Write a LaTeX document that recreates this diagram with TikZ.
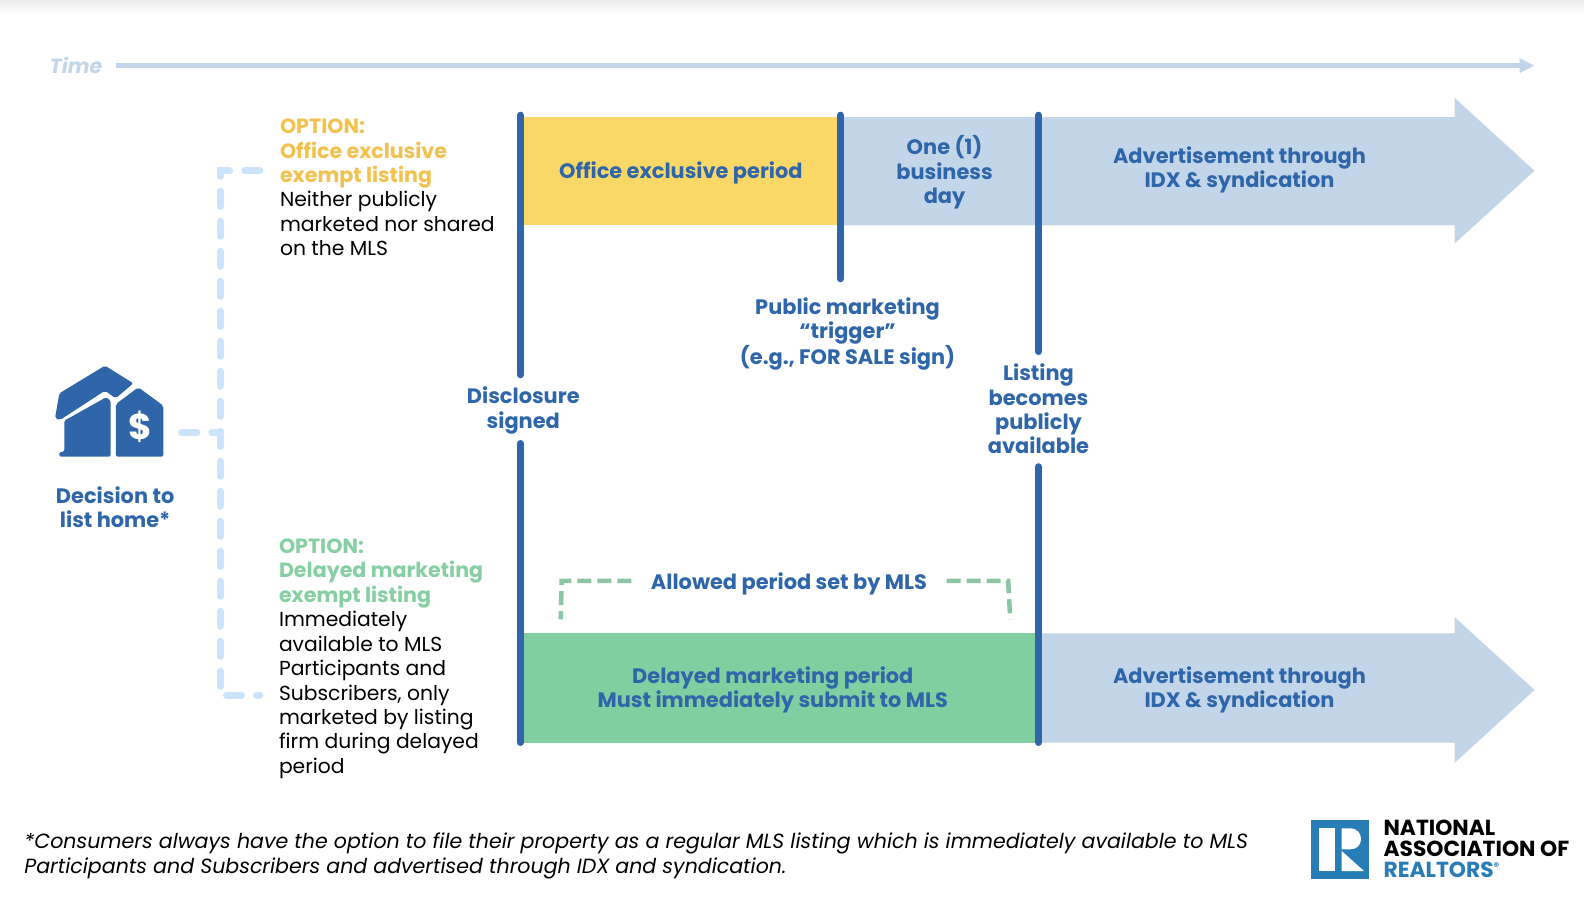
\documentclass[tikz,border=0pt]{standalone}
\usepackage{fontspec}
\setmainfont{Poppins}
\usetikzlibrary{arrows.meta}
\definecolor{navy}{HTML}{2F66A9}
\definecolor{pale}{HTML}{C3D5E8}
\definecolor{gold}{HTML}{F9D867}
\definecolor{goldtxt}{HTML}{F2C14E}
\definecolor{mint}{HTML}{81CEA0}
\definecolor{minttxt}{HTML}{86CFA3}
\definecolor{dashblue}{HTML}{CBE3FB}
\definecolor{dashgreen}{HTML}{8CC5A4}
\newcommand{\opthead}[2]{\textcolor{#1}{\fontsize{20.6}{24.45}\selectfont\bfseries #2}}
\tikzset{
 txt/.style={inner sep=0pt,align=left,text depth=0pt,font=\fontsize{20.3}{24.45}\selectfont},
 lbl/.style={inner sep=0pt,align=center,text=navy,font=\fontsize{20.9}{24.3}\selectfont\bfseries},
 bar/.style={navy,line width=7pt,line cap=round},
 fork/.style={dashblue,line width=7pt,line cap=round,dash pattern=on 15pt off 15pt},
 brk/.style={dashgreen,line width=4.5pt,dash pattern=on 14pt off 6pt},
}
\begin{document}
\begin{tikzpicture}[x=1.0102pt,y=-1.0102pt]
\useasboundingbox (0,0) rectangle (1568,887);
\fill[white] (0,0) rectangle (1568,887);
\shade[top color=black!8,bottom color=white] (0,0) rectangle (1568,13);
% time
\node[lbl,font=\fontsize{20.5}{24}\selectfont\bfseries\itshape,text=pale,anchor=west] (time) at (49,65) {Time};
\coordinate (timeS) at (115,65);
\coordinate (timeE) at (1519,65);
\draw[pale,line width=5pt,-{Triangle[length=15pt,width=14pt]}] (timeS) -- (timeE);
% bands
\fill[pale] (832,116) -- (1440,116) -- (1440,97) -- (1519,169) -- (1440,241) -- (1440,223) -- (832,223) -- cycle;
\fill[gold] (518,116) rectangle (832,223);
\fill[pale] (1028,627) -- (1440,627) -- (1440,611) -- (1519,683) -- (1440,755) -- (1440,735) -- (1028,735) -- cycle;
\fill[mint] (518,627) rectangle (1028,735);
\node[lbl] (op) at (674,171) {Office exclusive period};
\node[lbl] (one) at (935,170.5) {One (1)\\business\\day};
\node[lbl] (adv1) at (1227,168) {Advertisement through\\IDX \& syndication};
\node[lbl] (dmp) at (765,683) {Delayed marketing period\\Must immediately submit to MLS};
\node[lbl] (adv2) at (1227,683) {Advertisement through\\IDX \& syndication};
% labels on bars
\node[lbl] (disc) at (518,406.5) {Disclosure\\signed};
\node[lbl] (trig) at (839,330.5) {Public marketing\\“trigger”\\(e.g., FOR SALE sign)};
\node[lbl] (avail) at (1028,405) {Listing\\becomes\\publicly\\available};
\coordinate (a1) at (515,114); \coordinate (a2) at (515,371);
\coordinate (a3) at (515,439); \coordinate (a4) at (515,735);
\coordinate (b1) at (832,114); \coordinate (b2) at (832,276);
\coordinate (c1) at (1028,114); \coordinate (c2) at (1028,348);
\coordinate (c3) at (1028,462); \coordinate (c4) at (1028,735);
\draw[bar] (a1) -- (a2); \draw[bar] (a3) -- (a4);
\draw[bar] (b1) -- (b2);
\draw[bar] (c1) -- (c2); \draw[bar] (c3) -- (c4);
% allowed
\node[lbl] (allow) at (781,578) {Allowed period set by MLS};
\coordinate (g1) at (555,613); \coordinate (g2) at (556,575); \coordinate (g3) at (625,575);
\coordinate (g4) at (937,575); \coordinate (g5) at (998,575); \coordinate (g6) at (1000,613);
\draw[brk] (g3) -- (g2) -- (g1);
\draw[brk] (g4) -- (g5) -- (g6);
% fork
\coordinate (f1) at (257,169); \coordinate (f2) at (218,169); \coordinate (f3) at (218,688); \coordinate (f4) at (257,688);
\coordinate (f5) at (180,428); \coordinate (f6) at (218,428);
\draw[fork] (f1) -- (f2) -- (f3) -- (f4);
\draw[fork] (f5) -- (f6);
% options
\node[txt,anchor=north west] (opt1) at (277,117.5) {\opthead{goldtxt}{OPTION:}\\\opthead{goldtxt}{Office exclusive}\\\opthead{goldtxt}{exempt listing}\\Neither publicly\\marketed nor shared\\on the MLS};
\node[txt,anchor=north west] (opt2) at (276,533) {\opthead{minttxt}{OPTION:}\\\opthead{minttxt}{Delayed marketing}\\\opthead{minttxt}{exempt listing}\\Immediately\\available to MLS\\Participants and\\Subscribers, only\\marketed by listing\\firm during delayed\\period};
\node[lbl] (dec) at (114,502) {Decision to\\list home*};
\node[txt,anchor=north west,font=\fontsize{20.55}{25.2}\selectfont\itshape] (foot) at (24,824) {*Consumers always have the option to file their property as a regular MLS listing which is immediately available to MLS\\Participants and Subscribers and advertised through IDX and syndication.};
% house icon (zoom coordinates)
\begin{scope}[x=0.3333pt,y=-0.3333pt,yshift=-340pt]
\fill[navy,rounded corners=2pt] (315,77) -- (400,130) -- (347,175) -- (315,152) -- (180,240) -- (165,235) -- (178,160) -- cycle;
\fill[navy,rounded corners=1.5pt] (193,242) -- (318,172) -- (332,182) -- (332,350) -- (178,350) -- (178,336) -- (193,335) -- cycle;
\fill[navy,rounded corners=2pt] (415,142) -- (490,197) -- (490,350) -- (348,350) -- (348,192) -- cycle;
\node[text=white,inner sep=0pt,font=\fontsize{36}{36}\selectfont\bfseries] (dollar) at (420,260) {\$};
\end{scope}
% logo (zoom coordinates)
\begin{scope}[x=0.3333pt,y=-0.3333pt,xshift=1280pt,yshift=-790pt]
\fill[navy!85!cyan] (92,90) rectangle (267,268);
\fill[white] (117,113) rectangle (165,243);
\fill[white] (185,115) -- (210,115) .. controls (232,115) and (243,130) .. (243,147) .. controls (243,165) and (230,178) .. (212,178) -- (185,178) -- cycle;
\fill[white] (185,183) -- (252,243) -- (185,243) -- cycle;
\node[anchor=north west,inner sep=0pt,align=left,font=\fontsize{21.8}{21.2}\selectfont\bfseries] (nar) at (310,89) {NATIONAL\\ASSOCIATION OF\\\textcolor{navy!85!cyan}{REALTORS\raisebox{7pt}{\fontsize{11}{11}\selectfont ®}}};
\end{scope}
\end{tikzpicture}
\end{document}
